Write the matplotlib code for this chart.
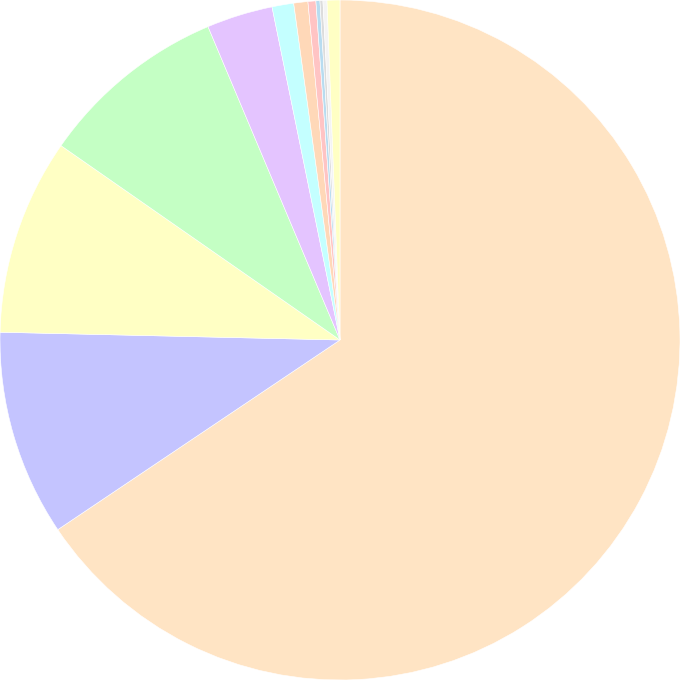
import matplotlib
matplotlib.use("Agg")
import matplotlib.pyplot as plt

# slice shares (%), clockwise from 12 o'clock
labels = ["A", "B", "C", "D", "E", "F", "G", "H", "I", "J", "K", "L"]
values = [65.58, 9.78, 9.32, 8.97, 3.14, 1.03, 0.67, 0.375, 0.19, 0.14, 0.19, 0.61]
colors = ["#FFE4C4", "#C4C4FF", "#FFFFC4", "#C4FFC4", "#E4C4FF", "#C4FFFF",
          "#FFD8B8", "#FFC4C4", "#B8DCF0", "#DCDCDC", "#F4F4F4", "#FFFFC4"]

fig = plt.figure(figsize=(6.8, 6.8), dpi=100)
ax = fig.add_axes([0, 0, 1, 1])
ax.pie(values, colors=colors, startangle=90, counterclock=False, radius=1,
       wedgeprops={"linewidth": 0.4, "edgecolor": "white"})
ax.set_xlim(-1.0, 1.0)
ax.set_ylim(-1.0, 1.0)
ax.set_aspect("equal")
ax.axis("off")
fig.savefig("out.png", dpi=100, facecolor="white")
